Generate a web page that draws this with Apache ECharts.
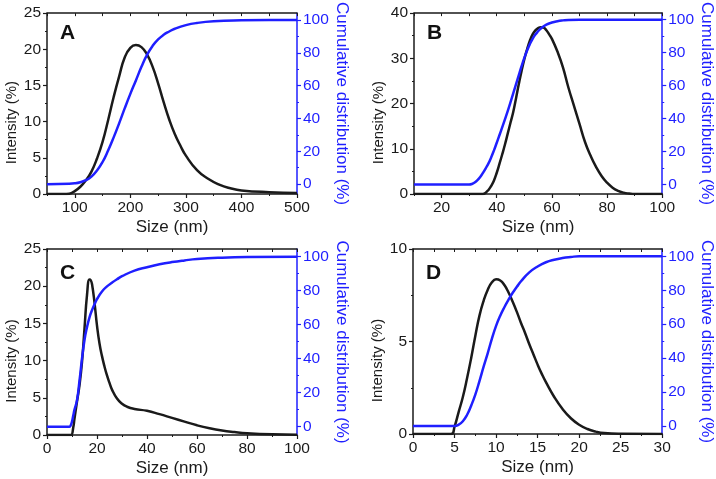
<!DOCTYPE html>
<html>
<head>
<meta charset="utf-8">
<script src="https://cdn.jsdelivr.net/npm/echarts@6/dist/echarts.min.js"></script>
<style>
html,body{margin:0;padding:0;background:#fff;}
#c{width:716px;height:479px;}
</style>
</head>
<body>
<div id="c"></div>
<script>
// ---------- Panel A ----------
var aSizeI = [50, 80, 90, 100, 110, 120, 130, 140, 150, 160, 170, 180, 190, 200, 210, 220, 230, 240, 250, 260, 270, 280, 290, 300, 320, 340, 360, 380, 400, 450, 500];
var aIntensity = [0, 0, 0.05, 0.4, 1.0, 1.9, 3.1, 4.9, 7.2, 10.2, 13.4, 16.3, 18.9, 20.2, 20.6, 20.3, 19.3, 17.6, 15.3, 12.7, 10.3, 8.3, 6.7, 5.3, 3.3, 2.1, 1.3, 0.8, 0.5, 0.25, 0.15];
var aSizeC = [50, 90, 100, 110, 120, 130, 140, 150, 160, 170, 180, 190, 200, 210, 220, 230, 240, 250, 260, 270, 280, 300, 320, 350, 400, 450, 500];
var aCum = [0, 0.2, 0.5, 1.2, 2.4, 4.6, 8.3, 13.5, 20.5, 28.5, 37.2, 46.3, 55, 63.2, 71.5, 78.8, 84.2, 88.2, 91, 93, 94.7, 96.9, 98.2, 99.2, 99.8, 100, 100];

// ---------- Panel B ----------
var bSizeI = [10, 35, 36, 37, 38, 39, 40, 41, 42, 43, 44, 45, 46, 47, 48, 49, 50, 51, 52, 53, 54, 55, 56, 57, 58, 59, 60, 62, 64, 66, 68, 70, 72, 74, 76, 78, 80, 82, 84, 86, 88, 90, 100];
var bIntensity = [0, 0, 0.3, 0.9, 1.8, 3.0, 4.7, 6.7, 8.8, 11, 13.4, 15.8, 18.2, 21.2, 24.3, 27.2, 29.8, 32, 33.9, 35.3, 36.2, 36.7, 36.9, 36.8, 36.2, 35.3, 34.3, 31.5, 28, 23.5, 19.5, 15.5, 11.5, 8.5, 6, 4, 2.5, 1.4, 0.7, 0.3, 0.1, 0, 0];
var bSizeC = [10, 30, 31, 32, 33, 34, 35, 36, 37, 38, 39, 40, 41, 42, 43, 44, 45, 46, 47, 48, 49, 50, 51, 52, 53, 54, 55, 56, 58, 60, 62, 64, 66, 70, 100];
var bCum = [0, 0, 0.3, 1.2, 2.6, 4.5, 7, 9.8, 12.8, 16.5, 20.7, 25.3, 30, 34.8, 39.7, 44.7, 50, 55.4, 60.9, 66.4, 71.8, 76.8, 81.3, 85.2, 88.4, 91, 93, 94.7, 97, 98.3, 99.1, 99.6, 99.9, 100, 100];

// ---------- Panel C ----------
var cSizeI = [0, 9, 9.7, 10.5, 11, 12, 13, 14, 15, 16, 17, 17.5, 18, 19, 20, 21, 22, 23, 24, 25, 26, 28, 30, 32, 35, 40, 45, 50, 55, 60, 65, 70, 75, 80, 90, 100];
var cIntensity = [0, 0, 0, 1.0, 2.2, 4.5, 6.7, 9.8, 14.3, 18.8, 20.9, 20.8, 20.3, 17.8, 14.7, 12.3, 10.6, 9.2, 8.0, 7.0, 6.1, 4.9, 4.2, 3.8, 3.5, 3.25, 2.8, 2.3, 1.8, 1.3, 0.9, 0.6, 0.4, 0.25, 0.1, 0.05];
var cSizeC = [0, 9, 9.5, 10, 10.5, 11, 12, 13, 14, 15, 16, 17, 18, 19, 20, 22, 24, 26, 28, 30, 35, 40, 45, 50, 55, 60, 70, 80, 100];
var cCum = [0, 0, 0.8, 3, 6.5, 10, 15.5, 27, 40, 51, 58.5, 64.3, 68.5, 72, 75, 79.5, 82.5, 84.7, 86.7, 88.5, 91.8, 93.8, 95.5, 96.8, 97.8, 98.6, 99.4, 99.8, 100];

// ---------- Panel D ----------
var dSizeI = [0, 4.6, 5, 5.5, 6, 6.5, 7, 7.5, 8, 8.5, 9, 9.5, 10, 10.5, 11, 11.5, 12, 12.5, 13, 13.5, 14, 14.5, 15, 15.5, 16, 17, 18, 19, 20, 21, 22, 23, 25, 30];
var dIntensity = [0, 0, 0.4, 1.2, 2.0, 3.0, 4.1, 5.3, 6.4, 7.2, 7.8, 8.2, 8.36, 8.3, 8.05, 7.65, 7.15, 6.6, 6.0, 5.45, 4.85, 4.3, 3.75, 3.25, 2.8, 2.0, 1.35, 0.85, 0.5, 0.27, 0.13, 0.05, 0.01, 0];
var dSizeC = [0, 5, 5.5, 6, 6.5, 7, 7.5, 8, 8.5, 9, 9.5, 10, 10.5, 11, 11.5, 12, 12.5, 13, 14, 15, 16, 17, 18, 19, 20, 30];
var dCum = [0, 0, 0.8, 2.8, 6.5, 12, 18.5, 26.5, 35, 43, 51.5, 59, 65, 70, 74.4, 78.5, 82, 85.3, 90.5, 94, 96.5, 98, 99, 99.6, 100, 100];

// ---------- Tick labels ----------
var aXTicks = [100, 200, 300, 400, 500];
var aXMinor = [50, 150, 250, 350, 450];
var bXTicks = [20, 40, 60, 80, 100];
var bXMinor = [10, 30, 50, 70, 90];
var cXTicks = [0, 20, 40, 60, 80, 100];
var cXMinor = [10, 30, 50, 70, 90];
var dXTicks = [0, 5, 10, 15, 20, 25, 30];
var dXMinor = [2.5, 7.5, 12.5, 17.5, 22.5, 27.5];
var aYTicks = [0, 5, 10, 15, 20, 25];
var bYTicks = [0, 10, 20, 30, 40];
var cYTicks = [0, 5, 10, 15, 20, 25];
var dYTicks = [0, 5, 10];
var aYMinor = [2.5, 7.5, 12.5, 17.5, 22.5];
var bYMinor = [5, 15, 25, 35];
var cYMinor = [2.5, 7.5, 12.5, 17.5, 22.5];
var dYMinor = [2.5, 7.5];
var cumTicks = [0, 20, 40, 60, 80, 100];
var cumMinor = [10, 30, 50, 70, 90];
var panelLetters = ['A', 'B', 'C', 'D'];

function zip(xs, ys) { return xs.map(function (x, i) { return [x, ys[i]]; }); }

var FONT = 'Liberation Sans, Arial, sans-serif';
var BLACK = '#1a1a1a';
var BLUE = '#1f1fff';

var panels = [
  { grid: { left: 47, top: 9, width: 250, height: 185 }, xmin: 50, xmax: 500, xt: aXTicks, xm: aXMinor, ymax: 25, yt: aYTicks, ym: aYMinor, cmin: -6, cmax: 104.2,
    si: aSizeI, iv: aIntensity, sc: aSizeC, cv: aCum },
  { grid: { left: 414, top: 9, width: 250, height: 185 }, xmin: 10, xmax: 100, xt: bXTicks, xm: bXMinor, ymax: 40, yt: bYTicks, ym: bYMinor, cmin: -5.8, cmax: 104,
    si: bSizeI, iv: bIntensity, sc: bSizeC, cv: bCum },
  { grid: { left: 47, top: 249, width: 250, height: 186 }, xmin: 0, xmax: 100, xt: cXTicks, xm: cXMinor, ymax: 25, yt: cYTicks, ym: cYMinor, cmin: -4.9, cmax: 104.5,
    si: cSizeI, iv: cIntensity, sc: cSizeC, cv: cCum },
  { grid: { left: 413, top: 249, width: 251, height: 185 }, xmin: 0, xmax: 30, xt: dXTicks, xm: dXMinor, ymax: 10, yt: dYTicks, ym: dYMinor, cmin: -4.7, cmax: 104.3,
    si: dSizeI, iv: dIntensity, sc: dSizeC, cv: dCum }
];

var grids = [], xAxes = [], yAxes = [], series = [], graphics = [];
var labelStyle = { fontFamily: FONT, fontSize: 15.5, color: BLACK };

panels.forEach(function (p, i) {
  grids.push(p.grid);
  var xi = xAxes.length;
  xAxes.push({ type: 'value', gridIndex: i, position: 'bottom', min: p.xmin, max: p.xmax,
    splitLine: { show: false },
    axisLine: { show: true, onZero: false, lineStyle: { color: BLACK, width: 1.5 } },
    axisTick: { show: true, inside: false, length: 4, customValues: p.xt, lineStyle: { color: BLACK, width: 1.2 } },
    axisLabel: Object.assign({ customValues: p.xt, margin: 6 }, labelStyle),
    name: 'Size (nm)', nameLocation: 'middle', nameGap: 25,
    nameTextStyle: { fontFamily: FONT, fontSize: 17, color: BLACK } });
  xAxes.push({ type: 'value', gridIndex: i, position: 'bottom', min: p.xmin, max: p.xmax,
    splitLine: { show: false }, axisLine: { show: false, onZero: false },
    axisTick: { show: true, inside: false, length: 2, customValues: p.xm, lineStyle: { color: BLACK, width: 1 } },
    axisLabel: { show: false } });
  xAxes.push({ type: 'value', gridIndex: i, position: 'top', min: p.xmin, max: p.xmax,
    splitLine: { show: false },
    axisLine: { show: true, onZero: false, lineStyle: { color: BLACK, width: 1.5 } },
    axisTick: { show: true, inside: true, length: 3, customValues: p.xt.concat(p.xm), lineStyle: { color: BLACK, width: 1 } },
    axisLabel: { show: false } });

  var yi = yAxes.length;
  yAxes.push({ type: 'value', gridIndex: i, position: 'left', min: 0, max: p.ymax,
    splitLine: { show: false },
    axisLine: { show: true, onZero: false, lineStyle: { color: BLACK, width: 1.5 } },
    axisTick: { show: true, inside: false, length: 4, customValues: p.yt, lineStyle: { color: BLACK, width: 1.2 } },
    axisLabel: Object.assign({ customValues: p.yt, margin: 6 }, labelStyle),
    name: 'Intensity (%)', nameLocation: 'middle', nameGap: 27, nameRotate: 90,
    nameTextStyle: { fontFamily: FONT, fontSize: 15, color: BLACK, padding: [0, 38, 0, 0] } });
  yAxes.push({ type: 'value', gridIndex: i, position: 'left', min: 0, max: p.ymax,
    splitLine: { show: false }, axisLine: { show: false, onZero: false },
    axisTick: { show: true, inside: false, length: 2, customValues: p.ym, lineStyle: { color: BLACK, width: 1 } },
    axisLabel: { show: false } });
  var ri = yAxes.length;
  yAxes.push({ type: 'value', gridIndex: i, position: 'right', min: p.cmin, max: p.cmax,
    splitLine: { show: false },
    axisLine: { show: true, onZero: false, lineStyle: { color: BLUE, width: 1.5 } },
    axisTick: { show: true, inside: false, length: 4, customValues: cumTicks, lineStyle: { color: BLUE, width: 1.2 } },
    axisLabel: { customValues: cumTicks, margin: 6, fontFamily: FONT, fontSize: 15.5, color: BLUE },
    name: 'Cumulative distribution (%)', nameLocation: 'middle', nameGap: 35, nameRotate: -90,
    nameTextStyle: { fontFamily: FONT, fontSize: 17, color: BLUE } });
  yAxes.push({ type: 'value', gridIndex: i, position: 'right', min: p.cmin, max: p.cmax,
    splitLine: { show: false }, axisLine: { show: false, onZero: false },
    axisTick: { show: true, inside: false, length: 2, customValues: cumMinor, lineStyle: { color: BLUE, width: 1 } },
    axisLabel: { show: false } });

  series.push({ type: 'line', xAxisIndex: xi, yAxisIndex: yi, data: zip(p.si, p.iv), showSymbol: false,
    smooth: 0.5, lineStyle: { color: BLACK, width: 2.5 }, z: 3 });
  series.push({ type: 'line', xAxisIndex: xi, yAxisIndex: ri, data: zip(p.sc, p.cv), showSymbol: false,
    smooth: 0.5, lineStyle: { color: BLUE, width: 2.5 }, z: 4 });

  graphics.push({ type: 'text', left: p.grid.left + 13, top: p.grid.top + 14,
    style: { text: panelLetters[i], fontFamily: FONT, fontWeight: 'bold', fontSize: 21, fill: '#111' } });
});

var chart = echarts.init(document.getElementById('c'), null, { renderer: 'canvas' });
chart.setOption({
  animation: false,
  backgroundColor: '#ffffff',
  grid: grids,
  xAxis: xAxes,
  yAxis: yAxes,
  series: series,
  graphic: graphics
});
</script>
</body>
</html>
